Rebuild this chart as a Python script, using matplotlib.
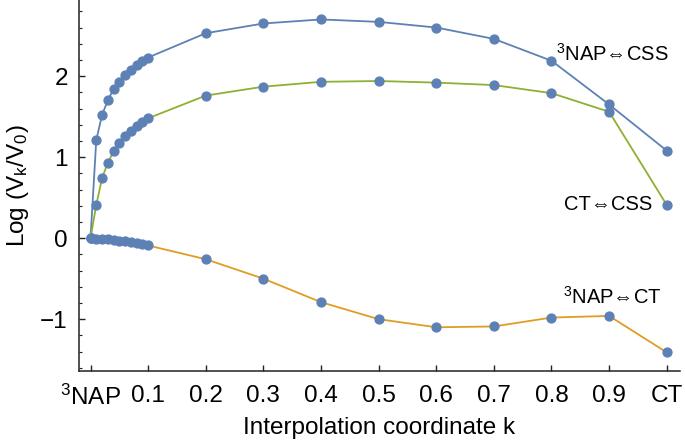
import matplotlib
matplotlib.use('Agg')
import matplotlib.pyplot as plt
from matplotlib.ticker import MultipleLocator

plt.rcParams['font.family'] = ['Liberation Sans', 'DejaVu Sans']
plt.rcParams['mathtext.fontset'] = 'custom'
plt.rcParams['mathtext.rm'] = 'Liberation Sans'
plt.rcParams['mathtext.it'] = 'Liberation Sans:italic'

# interpolation coordinate k
k = [0.0, 0.01, 0.02, 0.03, 0.04, 0.05, 0.06, 0.07, 0.08, 0.09, 0.1,
     0.2, 0.3, 0.4, 0.5, 0.6, 0.7, 0.8, 0.9, 1.0]

# Log(Vk/V0) per pathway
nap_css = [0.0, 1.21, 1.52, 1.70, 1.84, 1.93, 2.01, 2.08, 2.14, 2.19, 2.23,
           2.53, 2.65, 2.70, 2.67, 2.60, 2.46, 2.19, 1.65, 1.08]
ct_css = [0.0, 0.41, 0.74, 0.93, 1.07, 1.17, 1.26, 1.32, 1.38, 1.43, 1.48,
          1.76, 1.87, 1.93, 1.94, 1.92, 1.89, 1.79, 1.56, 0.41]
nap_ct = [0.0, -0.005, -0.01, -0.015, -0.02, -0.03, -0.04, -0.05, -0.06, -0.075, -0.09,
          -0.26, -0.50, -0.79, -1.00, -1.10, -1.09, -0.98, -0.96, -1.41]

xticks = [0.0, 0.1, 0.2, 0.3, 0.4, 0.5, 0.6, 0.7, 0.8, 0.9, 1.0]
xticklabels = ['$^3$NAP', '0.1', '0.2', '0.3', '0.4', '0.5', '0.6', '0.7', '0.8', '0.9', 'CT']

dot = '#5E81B5'
series = [
    (nap_css, '#5E81B5'),
    (ct_css, '#8FB032'),
    (nap_ct, '#E19C24'),
]

fig = plt.figure(figsize=(6.85, 4.42), dpi=100)
ax = fig.add_axes([0.1153, 0.1606, 0.8774, 0.8394])

for vals, col in series:
    ax.plot(k, vals, color=col, linewidth=1.3, zorder=2)
for vals, col in series:
    ax.plot(k, vals, linestyle='none', marker='o', markersize=6.4,
            markerfacecolor=dot, markeredgecolor=dot, zorder=3)

ax.set_xlim(-0.02, 1.023)
ax.set_ylim(-1.64, 2.94)

ax.set_xticks(xticks)
ax.set_xticklabels(xticklabels)
ax.set_yticks([-1, 0, 1, 2])
ax.set_yticklabels(['\u22121', '0', '1', '2'])
ax.yaxis.set_minor_locator(MultipleLocator(0.2))

ax.tick_params(axis='both', which='major', direction='in', length=4, width=1,
               labelsize=17.5, colors='#222222', labelcolor='black')
ax.tick_params(axis='x', which='major', pad=10)
ax.tick_params(axis='y', which='major', pad=8)
ax.tick_params(axis='y', which='minor', direction='in', length=2.5, width=0.8,
               colors='#222222')

for side in ['top', 'right']:
    ax.spines[side].set_visible(False)
for side in ['left', 'bottom']:
    ax.spines[side].set_linewidth(1.1)
    ax.spines[side].set_color('#222222')

ax.set_xlabel('Interpolation coordinate k', fontsize=17.5, labelpad=5)
ax.set_ylabel('Log (V$_{\\mathrm{k}}$/V$_0$)', fontsize=17.5, labelpad=7)

ax.text(0.808, 2.28, '$^3$NAP\u21d4CSS', fontsize=14.5, ha='left', va='center')
ax.text(0.975, 0.41, 'CT\u21d4CSS', fontsize=14.5, ha='right', va='center')
ax.text(0.82, -0.73, '$^3$NAP\u21d4CT', fontsize=14.5, ha='left', va='center')

fig.savefig('out.png', dpi=100)
